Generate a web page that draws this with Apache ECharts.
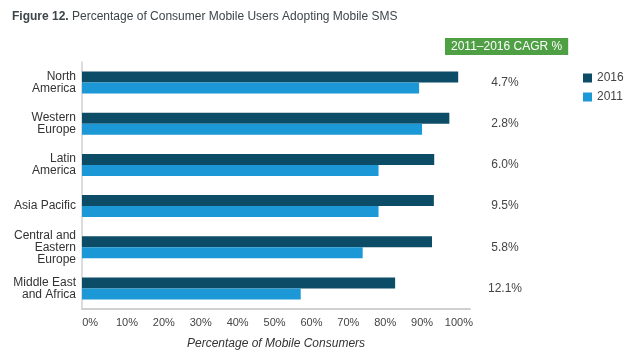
<!DOCTYPE html>
<html>
<head>
<meta charset="utf-8">
<script src="https://cdn.jsdelivr.net/npm/echarts@6/dist/echarts.min.js"></script>
<style>
html,body{margin:0;padding:0;background:#fff;}
#chart{width:636px;height:355px;}
</style>
</head>
<body>
<div id="chart"></div>
<script>
const categories = ['North\nAmerica', 'Western\nEurope', 'Latin\nAmerica', 'Asia Pacific', 'Central and\nEastern\nEurope', 'Middle East\nand Africa'];
const values2016 = [99.8, 97.4, 93.3, 93.2, 92.7, 82.7];
const values2011 = [89.2, 90.0, 78.2, 78.2, 73.9, 57.1];
const cagr = ['4.7%', '2.8%', '6.0%', '9.5%', '5.8%', '12.1%'];
const tickValues = [0, 10, 20, 30, 40, 50, 60, 70, 80, 90, 100];

const FONT = '"Liberation Sans", Arial, sans-serif';
const chart = echarts.init(document.getElementById('chart'), null, {renderer: 'canvas'});

chart.setOption({
  backgroundColor: '#ffffff',
  animation: false,
  title: [
    {
      text: '{b|Figure 12.} Percentage of Consumer Mobile Users Adopting Mobile SMS',
      left: 7, top: 6,
      textStyle: {
        fontFamily: FONT, fontSize: 12, color: '#3d4548', fontWeight: 'normal',
        rich: { b: { fontFamily: FONT, fontSize: 12, fontWeight: 'bold', color: '#3d4548' } }
      }
    },
    {
      text: '2011\u20132016 CAGR %',
      left: 445, top: 38,
      padding: [3, 6, 2, 6],
      backgroundColor: '#4f9f45',
      textStyle: { fontFamily: FONT, fontSize: 12, color: '#ffffff', fontWeight: 'normal' }
    }
  ],
  legend: {
    orient: 'vertical',
    left: 578, top: 67,
    itemWidth: 9, itemHeight: 9, itemGap: 7,
    icon: 'rect',
    textStyle: { fontFamily: FONT, fontSize: 12, color: '#444' },
    data: ['2016', '2011']
  },
  grid: [
    { left: 82, right: 166, top: 62, bottom: 46, containLabel: false },
    { left: 470, width: 70, top: 62, bottom: 46, containLabel: false }
  ],
  xAxis: [
    {
      type: 'value', gridIndex: 0,
      min: -2.2, max: 103,
      startValue: -2.2,
      axisLine: { show: true, onZero: false, lineStyle: { color: '#d0d0d0', width: 2 } },
      axisTick: { show: false },
      splitLine: { show: false },
      axisLabel: {
        customValues: tickValues,
        formatter: '{value}%',
        fontFamily: FONT, fontSize: 11, color: '#444', margin: 8
      },
      name: 'Percentage of Mobile Consumers',
      nameLocation: 'middle',
      nameGap: 29,
      nameTextStyle: { fontFamily: FONT, fontSize: 12, fontStyle: 'italic', color: '#333' }
    },
    {
      type: 'value', gridIndex: 1, min: 0, max: 1, show: false
    }
  ],
  yAxis: [
    {
      type: 'category', gridIndex: 0, inverse: true,
      data: categories,
      axisLine: { show: true, onZero: false, lineStyle: { color: '#d0d0d0', width: 1.5 } },
      axisTick: { show: false },
      axisLabel: { fontFamily: FONT, fontSize: 12, color: '#333', margin: 6, lineHeight: 12, align: 'right' }
    },
    {
      type: 'category', gridIndex: 1, inverse: true, show: false,
      data: categories
    }
  ],
  series: [
    {
      name: '2016', type: 'bar', xAxisIndex: 0, yAxisIndex: 0,
      data: values2016, barWidth: 11, barGap: '0%',
      itemStyle: { color: '#0c4c66' }
    },
    {
      name: '2011', type: 'bar', xAxisIndex: 0, yAxisIndex: 0,
      data: values2011, barWidth: 11, barGap: '0%',
      itemStyle: { color: '#1b98d5' }
    },
    {
      name: 'CAGR', type: 'scatter', xAxisIndex: 1, yAxisIndex: 1,
      symbolSize: 0, silent: true,
      itemStyle: { opacity: 1 },
      data: cagr.map((c, i) => [0.5, i]),
      label: {
        show: true, position: 'inside',
        formatter: p => cagr[p.dataIndex],
        fontFamily: FONT, fontSize: 12, color: '#444'
      }
    }
  ]
});
</script>
</body>
</html>
